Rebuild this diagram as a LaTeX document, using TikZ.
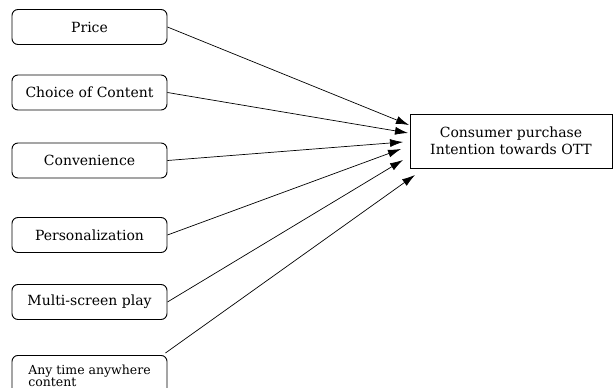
\documentclass[tikz,border=0pt]{standalone}
\usepackage{fontspec}
\setmainfont{DejaVu Serif}
\usetikzlibrary{arrows.meta}
\begin{document}
\begin{tikzpicture}[x=1pt,y=-1pt,
  factor/.style={draw,rounded corners=6pt,minimum width=155pt,minimum height=35pt,inner sep=2pt,font=\fontsize{14}{16}\selectfont,line width=0.9pt},
  target/.style={draw,minimum width=202pt,minimum height=54pt,align=center,font=\fontsize{14}{17}\selectfont,line width=0.9pt},
  link/.style={line width=0.7pt,-{Latex[length=13pt,width=8pt]}}]
\useasboundingbox (0,0) rectangle (614,388);
\node[factor] (price) at (89.5,27) {Price};
\node[factor] (choice) at (89.5,92.5) {Choice of Content};
\node[factor] (conv) at (89.5,160.5) {Convenience};
\node[factor] (pers) at (89.5,235) {Personalization};
\node[factor] (multi) at (89.5,302) {Multi-screen play};
\node[factor,minimum height=40pt,align=left,anchor=north,inner sep=1.5pt,font=\fontsize{12.5}{12}\selectfont] (any) at (89.5,355) {Any time anywhere\\content};
\node[target] (ott) at (511,141) {Consumer purchase\\Intention towards OTT};
\coordinate (t1) at (409,125);
\coordinate (t2) at (408,133);
\coordinate (t3) at (403,142);
\coordinate (t4) at (401,149);
\coordinate (t5) at (403,160);
\coordinate (t6) at (415,175);
\draw[link] (price.east) -- (t1);
\draw[link] (choice.east) -- (t2);
\draw[link] (conv.east) -- (t3);
\draw[link] (pers.east) -- (t4);
\draw[link] (multi.east) -- (t5);
\draw[link] ([xshift=-2pt,yshift=2pt]any.north east) -- (t6);
\end{tikzpicture}
\end{document}
